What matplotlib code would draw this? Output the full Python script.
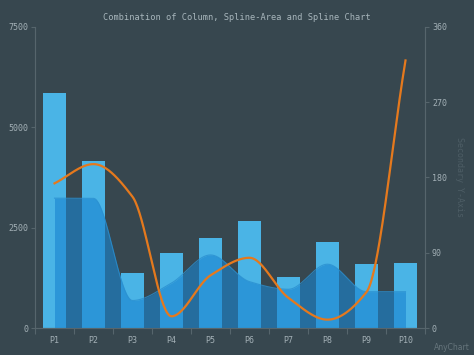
import matplotlib
matplotlib.use('Agg')
import matplotlib.pyplot as plt
import numpy as np

# chart data
categories = ['P1', 'P2', 'P3', 'P4', 'P5', 'P6', 'P7', 'P8', 'P9', 'P10']
column_vals = [5856, 4170, 1365, 1880, 2235, 2675, 1280, 2135, 1590, 1620]
area_vals = [3235, 3230, 685, 1120, 1820, 1155, 965, 1590, 905, 905]
spline_vals = [173, 196, 157, 14, 63, 84, 36, 10, 43, 320]

left_ticks = [0, 2500, 5000, 7500]
right_ticks = [0, 90, 180, 270, 360]

BG = '#37474f'
AXIS = '#56656c'
TXT = '#a3b0b6'


def monotone_spline(xs, ys, n=40):
    # Fritsch-Butland monotone cubic, smooth curve through the points
    xs = np.asarray(xs, float)
    ys = np.asarray(ys, float)
    h = np.diff(xs)
    d = np.diff(ys) / h
    m = np.zeros_like(ys)
    m[0], m[-1] = d[0], d[-1]
    for k in range(1, len(xs) - 1):
        if d[k - 1] * d[k] <= 0:
            m[k] = 0
        else:
            w1 = 2 * h[k] + h[k - 1]
            w2 = h[k] + 2 * h[k - 1]
            m[k] = (w1 + w2) / (w1 / d[k - 1] + w2 / d[k])
    out_x, out_y = [], []
    for k in range(len(xs) - 1):
        t = np.linspace(0, 1, n)
        h00 = 2 * t**3 - 3 * t**2 + 1
        h10 = t**3 - 2 * t**2 + t
        h01 = -2 * t**3 + 3 * t**2
        h11 = t**3 - t**2
        yy = h00 * ys[k] + h10 * h[k] * m[k] + h01 * ys[k + 1] + h11 * h[k] * m[k + 1]
        out_x.extend(xs[k] + t * h[k])
        out_y.extend(yy)
    return np.array(out_x), np.array(out_y)


plt.rcParams['font.family'] = ['DejaVu Sans Mono']

fig = plt.figure(figsize=(4.74, 3.55), dpi=100, facecolor=BG)
ax = fig.add_axes([35 / 474, 27 / 355, 390 / 474, 301 / 355], facecolor=BG)
ax2 = ax.twinx()

x = np.arange(len(categories))
ax.bar(x, column_vals, width=0.59, color='#4ab4e6', zorder=2)

ax_x, ax_y = monotone_spline(x, area_vals)
ax.fill_between(ax_x, 0, ax_y, color='#1a85d0', alpha=0.62, lw=0, zorder=3)
ax.plot(ax_x, ax_y, color='#2a8fd0', lw=0.8, alpha=0.8, zorder=3)

ln_x, ln_y = monotone_spline(x, spline_vals)
ax2.plot(ln_x, ln_y, color='#e5791d', lw=1.6, zorder=4)

ax.set_xlim(-0.5, len(categories) - 0.5)
ax.set_ylim(0, 7500)
ax2.set_ylim(0, 360)

ax.set_yticks(left_ticks)
ax.set_yticklabels([str(v) for v in left_ticks])
ax2.set_yticks(right_ticks)
ax2.set_yticklabels([str(v) for v in right_ticks])

ax.set_xticks(x)
ax.set_xticklabels(categories)
ax.set_xticks(np.arange(-0.5, len(categories), 1.0), minor=True)
ax.tick_params(axis='x', which='major', length=0, pad=6, labelsize=6, colors=TXT)
ax.tick_params(axis='x', which='minor', length=4, color=AXIS, width=0.8)
ax.tick_params(axis='y', length=3, color=AXIS, labelsize=6, labelcolor=TXT, pad=2)
ax2.tick_params(axis='y', length=3, color=AXIS, labelsize=6, labelcolor=TXT, pad=2)

for a in (ax, ax2):
    a.spines['top'].set_visible(False)
    a.spines['left'].set_color(AXIS)
    a.spines['right'].set_color(AXIS)
    a.spines['bottom'].set_color(AXIS)
    a.spines['left'].set_linewidth(0.8)
    a.spines['right'].set_linewidth(0.8)
    a.spines['bottom'].set_linewidth(0.8)
ax2.set_zorder(ax.get_zorder() + 1)
ax2.patch.set_visible(False)

ax2.set_ylabel('Secondary Y-Axis', rotation=270, fontsize=6, color='#4d5d65', labelpad=12)

fig.text(0.5, 1 - 17 / 355, 'Combination of Column, Spline-Area and Spline Chart',
         ha='center', va='center', fontsize=6.2, color='#a8b6bc')
fig.text(470 / 474, 1 - 348 / 355, 'AnyChart', ha='right', va='center',
         fontsize=5.5, color='#66757c', family='DejaVu Sans')

fig.savefig('out.png', dpi=100, facecolor=BG)
